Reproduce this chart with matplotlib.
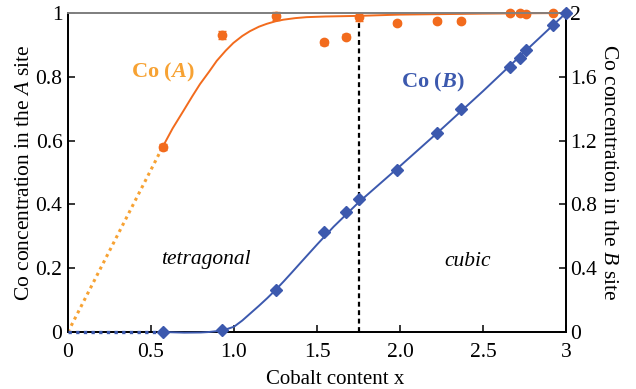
import matplotlib
matplotlib.use("Agg")
import matplotlib.pyplot as plt
import numpy as np

plt.rcParams['font.family'] = ['Liberation Serif', 'DejaVu Serif']
plt.rcParams['mathtext.fontset'] = 'custom'
plt.rcParams['mathtext.rm'] = 'Liberation Serif'
plt.rcParams['mathtext.it'] = 'Liberation Serif:italic'
plt.rcParams['mathtext.bf'] = 'Liberation Serif:bold'
plt.rcParams['mathtext.bfit'] = 'Liberation Serif:italic:bold'

# Cobalt content of the samples
x_co = [0.57, 0.93, 1.25, 1.54, 1.675, 1.75, 1.98, 2.22, 2.37, 2.66, 2.72, 2.76, 2.92, 3.0]
# Co fraction on the A site (left axis) with uncertainties
co_a = [0.58, 0.93, 0.99, 0.908, 0.925, 0.988, 0.968, 0.974, 0.976, 1.0, 1.0, 0.997, 1.0, 1.0]
co_a_err = [0.008, 0.013, 0.012, 0.008, 0.008, 0.012, 0.006, 0.006, 0.006, 0.006, 0.006, 0.006, 0.004, 0.004]
# Co content on the B site (right axis)
co_b = [0.0, 0.012, 0.265, 0.63, 0.753, 0.836, 1.013, 1.25, 1.40, 1.662, 1.721, 1.767, 1.926, 2.0]

# Fitted trend curves
fit_a_x = [0.57, 0.63, 0.695, 0.75, 0.795, 0.85, 0.896, 0.95, 0.996, 1.05, 1.096, 1.15,
           1.197, 1.25, 1.297, 1.37, 1.438, 1.55, 1.75, 2.0, 2.5, 3.0]
fit_a_y = [0.58, 0.638, 0.693, 0.74, 0.777, 0.816, 0.850, 0.882, 0.906, 0.928, 0.943, 0.957,
           0.966, 0.974, 0.979, 0.984, 0.987, 0.989, 0.991, 0.995, 0.998, 1.0]
fit_b_x = [0.57, 0.7, 0.8, 0.85, 0.9, 0.95, 1.0, 1.05, 1.1, 1.15, 1.2, 1.25, 1.3, 1.35,
           1.4, 1.5, 1.6, 1.75, 2.0, 2.25, 2.5, 2.75, 3.0]
fit_b_y = [0.0, -0.004, -0.003, 0.0, 0.006, 0.016, 0.033, 0.072, 0.118, 0.164, 0.212, 0.263,
           0.318, 0.375, 0.433, 0.548, 0.660, 0.812, 1.04, 1.272, 1.51, 1.756, 2.0]
# Extrapolation towards x = 0
extrap_x = [0.0, 0.57]
extrap_a = [0.0, 0.58]
extrap_b = [0.0, 0.0]

boundary_x = 1.75

orange = '#F26B1D'
orange_light = '#F7A233'
blue = '#3C59AE'

fig = plt.figure(figsize=(6.36, 3.89), dpi=100)
ax = fig.add_axes([68 / 636, 1 - 332 / 389, (566 - 68) / 636, (332 - 13) / 389])
ax2 = ax.twinx()

ax.set_xlim(0, 3)
ax.set_ylim(0, 1)
ax2.set_ylim(0, 2)

# A site
ax.plot(extrap_x, extrap_a, linestyle=(0, (1, 1.3)), color=orange_light, lw=2.2, zorder=3)
ax.plot(fit_a_x, fit_a_y, color=orange, lw=1.4, zorder=3, clip_on=False)
ax.errorbar(x_co, co_a, yerr=co_a_err, fmt='o', ms=6, color=orange, mec=orange,
            ecolor=orange, elinewidth=1.0, capsize=3, capthick=1.0, zorder=4, clip_on=False)

# B site
ax2.plot(extrap_x, extrap_b, linestyle=(0, (1, 1.3)), color=blue, lw=2.4, zorder=3, clip_on=False)
ax2.plot(fit_b_x, fit_b_y, color=blue, lw=1.4, zorder=3, clip_on=False)
ax2.plot(x_co, co_b, 'D', ms=6, color=blue, zorder=4, clip_on=False)

# tetragonal / cubic boundary
ax.plot([boundary_x, boundary_x], [0, 1], color='black', lw=1.6, linestyle=(0, (2.2, 1.6)), zorder=2)

ax.text(0.57, 0.814, r'Co ($\mathbfit{A}$)', color=orange_light, fontsize=16, fontweight='bold',
        ha='center', va='center')
ax.text(2.2, 0.781, r'Co ($\mathbfit{B}$)', color=blue, fontsize=16, fontweight='bold',
        ha='center', va='center')
ax.text(0.83, 0.226, 'tetragonal', fontsize=15.5, style='italic', ha='center', va='center')
ax.text(2.41, 0.222, 'cubic', fontsize=15.5, style='italic', ha='center', va='center')

ax.set_xticks([0, 0.5, 1.0, 1.5, 2.0, 2.5, 3.0])
ax.set_xticklabels(['0', '0.5', '1.0', '1.5', '2.0', '2.5', '3'])
ax.set_yticks([0, 0.2, 0.4, 0.6, 0.8, 1.0])
ax.set_yticklabels(['0', '0.2', '0.4', '0.6', '0.8', '1'])
ax2.set_yticks([0, 0.4, 0.8, 1.2, 1.6, 2.0])
ax2.set_yticklabels(['0', '0.4', '0.8', '1.2', '1.6', '2'])

for a in (ax, ax2):
    a.tick_params(direction='in', length=5, width=1.1, labelsize=15.5)
    for s in a.spines.values():
        s.set_linewidth(1.3)
    a.spines['top'].set_color('#808080')
ax.tick_params(axis='y', right=False, pad=4)
ax.tick_params(axis='x', pad=8)
ax2.tick_params(axis='y', left=False, pad=3)

ax.set_xlabel('Cobalt content x', fontsize=15, labelpad=1)
ax.xaxis.set_label_coords(0.536, -0.118)
ax.set_ylabel(r'Co concentration in the $A$ site', fontsize=15.5, labelpad=1)
ax2.set_ylabel(r'Co concentration in the $B$ site', fontsize=15.5, rotation=270, labelpad=15)

fig.savefig('out.png', dpi=100)
